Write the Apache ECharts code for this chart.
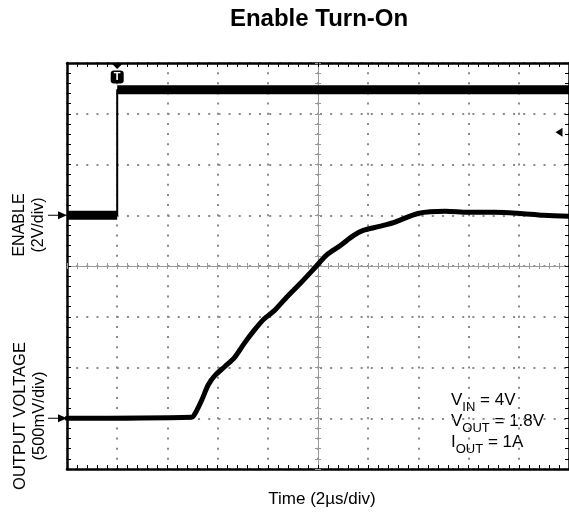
<!DOCTYPE html>
<html><head><meta charset="utf-8">
<script src="https://cdn.jsdelivr.net/npm/echarts@6/dist/echarts.min.js"></script>
<style>html,body{margin:0;padding:0;background:#fff}#c{width:569px;height:514px}</style>
</head><body><div id="c"></div>
<script>
// time in µs relative to the trigger point (2 µs/div)
const timeRange = [-2, 18];
const timeStep = 2;
// ENABLE channel, volts (2 V/div, ground 3 div below top)
const enableRange = [-10, 6];
const enableStep = 2;
const enableTime = [-2, 0, 0, 18];
const enableVolts = [0, 0, 4.95, 4.95];
const triggerLevel = 3.27;
// OUTPUT VOLTAGE channel, volts (500 mV/div, ground 1 div above bottom)
const outputRange = [-0.5, 3.5];
const outputStep = 0.5;
const outputTime = [-2, 2.97, 3.11, 3.37, 3.63, 3.89, 4.29, 4.68, 5.07, 5.47, 5.86, 6.26, 6.78, 7.30, 7.83, 8.35, 8.88, 9.41, 9.80, 10.45, 11.04, 12.02, 13.08, 13.98, 15.05, 15.95, 17.0, 18.0];
const outputVolts = [0, 0.01, 0.05, 0.18, 0.33, 0.42, 0.51, 0.60, 0.74, 0.87, 0.98, 1.06, 1.20, 1.33, 1.47, 1.61, 1.70, 1.80, 1.85, 1.89, 1.93, 2.02, 2.04, 2.03, 2.03, 2.02, 2.00, 1.99];

const titleText = 'Enable Turn-On';
const xLabel = 'Time (2µs/div)';
const enableLabel = 'ENABLE\n(2V/div)';
const outputLabel = 'OUTPUT VOLTAGE\n(500mV/div)';

const FONT = 'Liberation Sans, Arial, sans-serif';
const chart = echarts.init(document.getElementById('c'), null, {renderer: 'canvas'});

const enableData = enableTime.map((t, i) => [t, enableVolts[i]]);
const enableThick = [];
enableData.forEach((p, i) => {
  if (i > 0 && p[0] === enableData[i - 1][0]) enableThick.push(['-', '-']);
  enableThick.push(p);
});
const outputData = outputTime.map((t, i) => [t, outputVolts[i]]);

const frameLine = {onZero: false, lineStyle: {color: '#000', width: 2.5}};
const frameTick = {show: true, inside: true, length: 4, lineStyle: {color: '#000', width: 1}};
const frameMinor = {show: true, splitNumber: 5, length: 4, lineStyle: {color: '#000', width: 1}};
const dotsX = {show: true, lineStyle: {color: '#8a8a8a', width: 2, type: [2, 8.15], dashOffset: 1}};
const dotsY = {show: true, lineStyle: {color: '#8a8a8a', width: 2, type: [2, 8.16], dashOffset: 1}};
const centerLine = {onZero: true, lineStyle: {color: '#999', width: 1}};
const cTick = (inside) => ({show: true, inside, length: 3, lineStyle: {color: '#999', width: 1}});
const cMinor = {show: true, splitNumber: 5, length: 3, lineStyle: {color: '#999', width: 1}};
const groundArrow = 'path://M0,3.6 L10,3.6 L10,0 L19,4 L10,8 L10,4.4 L0,4.4 Z';

const option = {
  animation: false,
  backgroundColor: '#fff',
  grid: {left: 67, top: 63, right: -6, bottom: 45, containLabel: false},
  xAxis: [
    {type: 'value', min: timeRange[0], max: timeRange[1], interval: timeStep, position: 'bottom',
     axisLine: frameLine, axisTick: frameTick, minorTick: frameMinor, axisLabel: {show: false}, splitLine: dotsX},
    {type: 'value', min: timeRange[0], max: timeRange[1], interval: timeStep, position: 'top',
     axisLine: frameLine, axisTick: frameTick, minorTick: frameMinor, axisLabel: {show: false}, splitLine: {show: false}},
    {type: 'value', min: timeRange[0], max: timeRange[1], interval: timeStep, position: 'bottom',
     axisLine: Object.assign({onZeroAxisIndex: 2}, centerLine), axisTick: cTick(true), minorTick: cMinor, axisLabel: {show: false}, splitLine: {show: false}},
    {type: 'value', min: timeRange[0], max: timeRange[1], interval: timeStep, position: 'bottom',
     axisLine: Object.assign({onZeroAxisIndex: 2}, centerLine), axisTick: cTick(false), minorTick: cMinor, axisLabel: {show: false}, splitLine: {show: false}},
    {type: 'value', min: -5, max: 5, show: false}
  ],
  yAxis: [
    {type: 'value', min: enableRange[0], max: enableRange[1], interval: enableStep, position: 'left',
     axisLine: frameLine, axisTick: frameTick, minorTick: frameMinor, axisLabel: {show: false}, splitLine: dotsY},
    {type: 'value', min: outputRange[0], max: outputRange[1], interval: outputStep, position: 'right',
     axisLine: frameLine, axisTick: frameTick, minorTick: frameMinor, axisLabel: {show: false}, splitLine: {show: false}},
    {type: 'value', min: -4, max: 4, show: false},
    {type: 'value', min: -4, max: 4, interval: 1, position: 'left',
     axisLine: Object.assign({onZeroAxisIndex: 4}, centerLine), axisTick: cTick(true), minorTick: cMinor, axisLabel: {show: false}, splitLine: {show: false}},
    {type: 'value', min: -4, max: 4, interval: 1, position: 'left',
     axisLine: Object.assign({onZeroAxisIndex: 4}, centerLine), axisTick: cTick(false), minorTick: cMinor, axisLabel: {show: false}, splitLine: {show: false}}
  ],
  series: [
    {name: 'output', type: 'line', xAxisIndex: 0, yAxisIndex: 1, data: outputData, showSymbol: false, smooth: 0.3,
     lineStyle: {color: '#000', width: 5, join: 'round', cap: 'round'}, z: 5,
     markPoint: {symbol: groundArrow, symbolSize: [19, 8],
       symbolOffset: [-9.5, 0], itemStyle: {color: '#000'}, label: {show: false},
       data: [{coord: [timeRange[0], 0]}]}},
    {name: 'enable-edge', type: 'line', xAxisIndex: 0, yAxisIndex: 0, data: enableData, showSymbol: false,
     lineStyle: {color: '#000', width: 2}, z: 5},
    {name: 'enable', type: 'line', xAxisIndex: 0, yAxisIndex: 0, data: enableThick, showSymbol: false, connectNulls: false,
     lineStyle: {color: '#000', width: 9}, z: 5,
     markPoint: {label: {show: false}, itemStyle: {color: '#000'},
       data: [
         {coord: [timeRange[0], 0], symbol: groundArrow, symbolSize: [19, 8], symbolOffset: [-9.5, 0]},
         {coord: [0, enableRange[1]], symbol: 'triangle', symbolRotate: 180, symbolSize: [12, 6], symbolOffset: [0, 3]},
         {coord: [0, enableRange[1]], symbol: 'roundRect', symbolSize: [13, 13], symbolOffset: [0, 14],
          label: {show: true, formatter: 'T', color: '#fff', fontSize: 11, fontWeight: 'bold', fontFamily: FONT, position: 'inside'}},
         {coord: [timeRange[1], triggerLevel], symbol: 'triangle', symbolRotate: 90, symbolSize: [9, 7], symbolOffset: [-10, 0]}
       ]}}
  ],
  graphic: [
    {type: 'text', x: 319, y: 19, style: {text: titleText, font: 'bold 24px ' + FONT, fill: '#000', align: 'center', verticalAlign: 'middle'}},
    {type: 'text', x: 322, y: 499, style: {text: xLabel, font: '17px ' + FONT, fill: '#000', align: 'center', verticalAlign: 'middle'}},
    {type: 'text', x: 29.5, y: 225, rotation: Math.PI / 2, style: {text: enableLabel, font: '16px ' + FONT, fill: '#000', align: 'center', verticalAlign: 'middle', lineHeight: 19}},
    {type: 'text', x: 29.5, y: 416, rotation: Math.PI / 2, style: {text: outputLabel, font: '16.5px ' + FONT, fill: '#000', align: 'center', verticalAlign: 'middle', lineHeight: 19}},
    {type: 'text', x: 451, y: 390, style: {
      text: '{m|V}{s|IN}{m| = 4V}\n{m|V}{s|OUT}{m| = 1.8V}\n{m|I}{s|OUT}{m| = 1A}',
      align: 'left', verticalAlign: 'top', fill: '#000',
      rich: {
        m: {fontSize: 17, fontFamily: FONT, lineHeight: 21, fill: '#000'},
        s: {fontSize: 13, fontFamily: FONT, lineHeight: 21, padding: [13, 0, 0, 0], fill: '#000'}
      }}}
  ]
};
chart.setOption(option);
</script></body></html>
